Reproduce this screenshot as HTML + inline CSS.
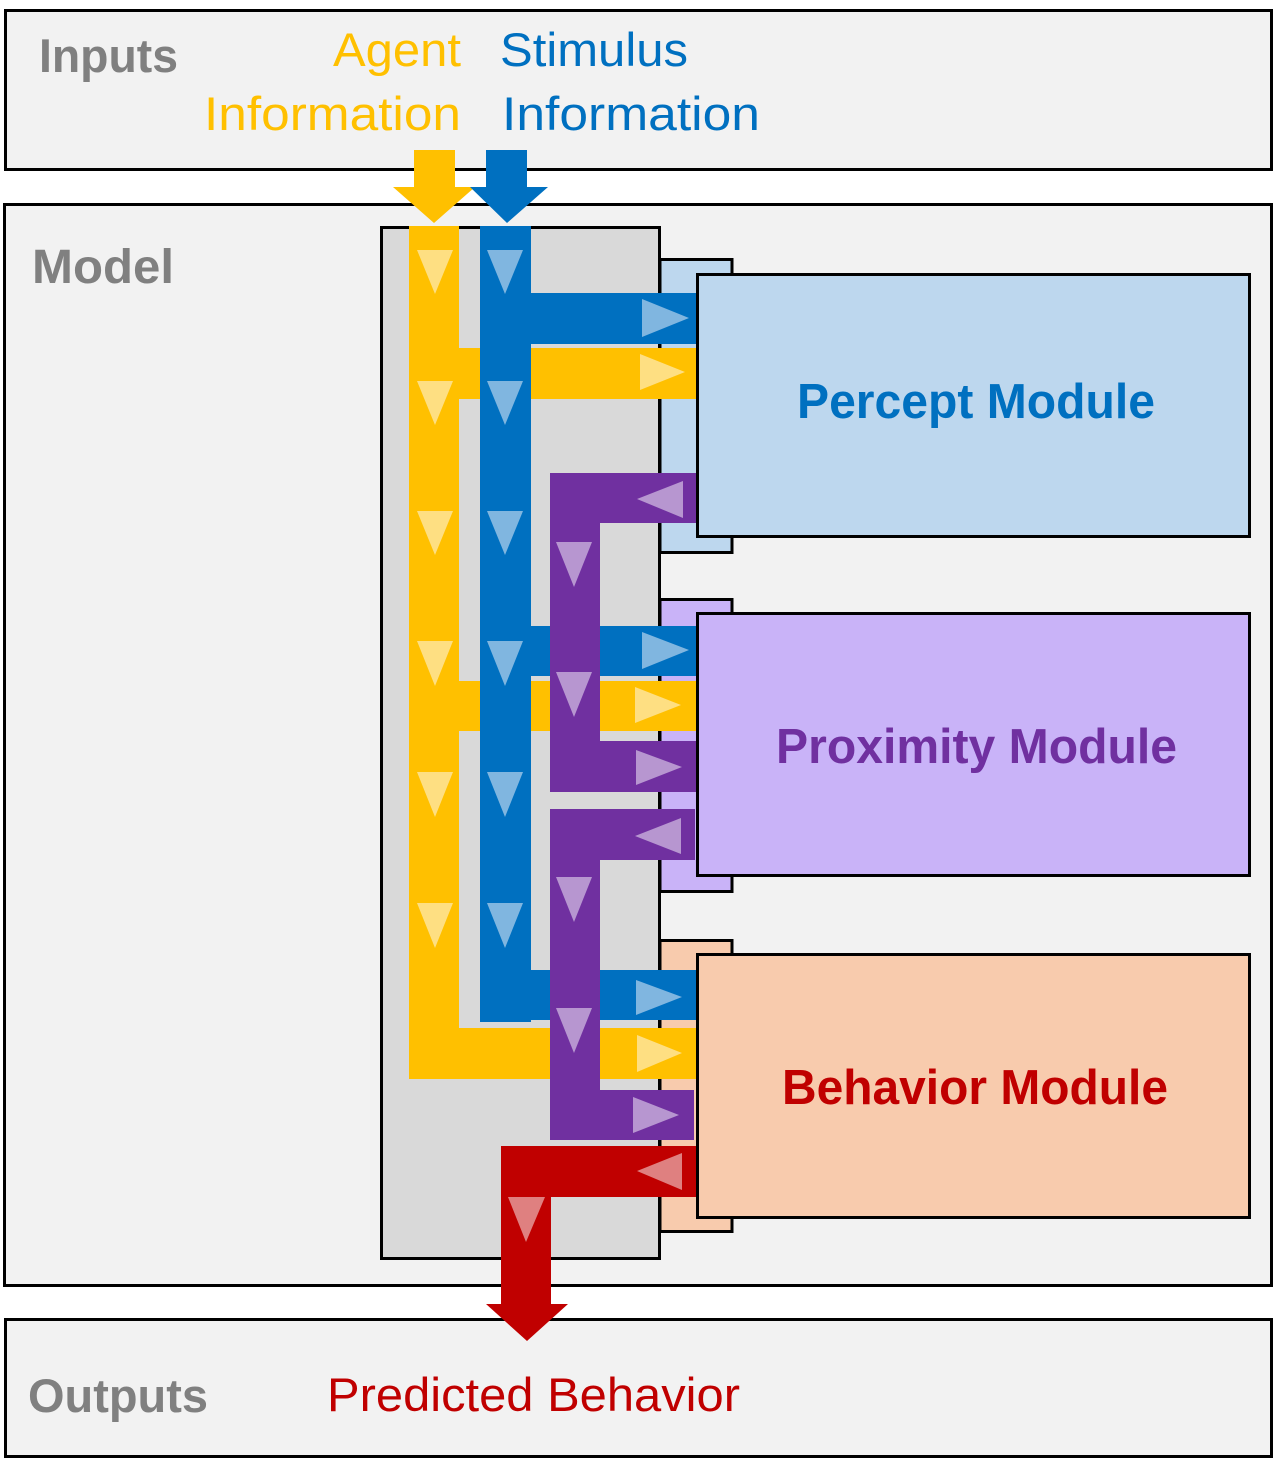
<!DOCTYPE html>
<html><head><meta charset="utf-8"><style>html,body{margin:0;padding:0;background:#fff}svg{display:block}text{font-family:"Liberation Sans",sans-serif}</style></head>
<body>
<svg width="1280" height="1463" viewBox="0 0 1280 1463" xmlns="http://www.w3.org/2000/svg">
<!-- outer boxes -->
<rect x="5.5" y="10.5" width="1266" height="159" fill="#f2f2f2" stroke="#000" stroke-width="3"/>
<rect x="4.5" y="204.5" width="1267" height="1081" fill="#f2f2f2" stroke="#000" stroke-width="3"/>
<rect x="5.5" y="1319.5" width="1266" height="137" fill="#f2f2f2" stroke="#000" stroke-width="3"/>

<text x="39" y="72" font-size="47" font-weight="bold" fill="#808080" textLength="139" lengthAdjust="spacingAndGlyphs">Inputs</text>
<text x="333" y="66" font-size="47" fill="#ffc000" textLength="128" lengthAdjust="spacingAndGlyphs">Agent</text>
<text x="204" y="130" font-size="47" fill="#ffc000" textLength="257" lengthAdjust="spacingAndGlyphs">Information</text>
<text x="500" y="66" font-size="47" fill="#0070c0" textLength="188" lengthAdjust="spacingAndGlyphs">Stimulus</text>
<text x="502" y="130" font-size="47" fill="#0070c0" textLength="258" lengthAdjust="spacingAndGlyphs">Information</text>
<text x="32" y="283" font-size="48" font-weight="bold" fill="#808080" textLength="142" lengthAdjust="spacingAndGlyphs">Model</text>
<text x="28" y="1412" font-size="47" font-weight="bold" fill="#808080" textLength="180" lengthAdjust="spacingAndGlyphs">Outputs</text>
<text x="327" y="1411" font-size="47" fill="#c00000" textLength="413" lengthAdjust="spacingAndGlyphs">Predicted Behavior</text>

<!-- gray panel -->
<rect x="381.5" y="227.5" width="278" height="1031" fill="#d9d9d9" stroke="#000" stroke-width="3"/>
<!-- back boxes -->
<rect x="660" y="259.5" width="72" height="293" fill="#bdd7ee" stroke="#000" stroke-width="3"/>
<rect x="660" y="599.5" width="72" height="292" fill="#c9b3f8" stroke="#000" stroke-width="3"/>
<rect x="660" y="940.5" width="72" height="291" fill="#f8cbad" stroke="#000" stroke-width="3"/>

<!-- input arrows -->
<polygon points="414,150 455,150 455,187 475,187 434,223 393,187 414,187" fill="#ffc000"/>
<polygon points="486,150 527,150 527,187 548,187 507,223 470,187 486,187" fill="#0070c0"/>

<!-- yellow -->
<rect x="409" y="226" width="50" height="853" fill="#ffc000"/>
<rect x="459" y="348" width="237" height="51" fill="#ffc000"/>
<rect x="459" y="681" width="237" height="50" fill="#ffc000"/>
<rect x="409" y="1028" width="287" height="51" fill="#ffc000"/>
<!-- blue -->
<rect x="480" y="226" width="51" height="796" fill="#0070c0"/>
<rect x="531" y="293" width="167" height="51" fill="#0070c0"/>
<rect x="531" y="626" width="167" height="50" fill="#0070c0"/>
<rect x="531" y="970" width="169" height="50" fill="#0070c0"/>
<!-- purple -->
<rect x="550" y="473" width="148" height="50" fill="#7030a0"/>
<rect x="550" y="473" width="50" height="319" fill="#7030a0"/>
<rect x="550" y="741" width="147" height="51" fill="#7030a0"/>
<rect x="550" y="809" width="145" height="51" fill="#7030a0"/>
<rect x="550" y="809" width="50" height="331" fill="#7030a0"/>
<rect x="550" y="1090" width="144" height="50" fill="#7030a0"/>
<!-- red -->
<rect x="501" y="1146" width="196" height="51" fill="#c00000"/>
<rect x="501" y="1146" width="50" height="160" fill="#c00000"/>
<polygon points="486,1304 568,1304 527,1341" fill="#c00000"/>

<!-- triangles -->
<g fill="#fedf82">
<polygon points="417,250 453,250 435,294"/><polygon points="417,381 453,381 435,425"/><polygon points="417,511 453,511 435,555"/>
<polygon points="417,641 453,641 435,686"/><polygon points="417,772 453,772 435,817"/><polygon points="417,903 453,903 435,948"/>
<polygon points="640,354 640,390 685,372"/><polygon points="635,687 635,723 681,705"/><polygon points="637,1035 637,1072 682,1053"/>
</g>
<g fill="#80b6e0">
<polygon points="487,250 523,250 505,294"/><polygon points="487,381 523,381 505,425"/><polygon points="487,511 523,511 505,555"/>
<polygon points="487,641 523,641 505,686"/><polygon points="487,772 523,772 505,817"/><polygon points="487,903 523,903 505,948"/>
<polygon points="642,299 642,337 689,318"/><polygon points="642,632 642,669 689,650"/><polygon points="636,980 636,1015 682,997"/>
</g>
<g fill="#b796d0">
<polygon points="556,542 592,542 574,587"/><polygon points="556,672 592,672 574,717"/><polygon points="556,877 592,877 574,922"/><polygon points="556,1008 592,1008 574,1053"/>
<polygon points="683,481 683,518 637,499"/><polygon points="636,750 636,785 682,767"/><polygon points="681,818 681,854 635,836"/><polygon points="633,1097 633,1133 679,1115"/>
</g>
<g fill="#df8080">
<polygon points="682,1153 682,1190 637,1171"/><polygon points="508,1197 545,1197 526,1242"/>
</g>

<!-- front boxes -->
<rect x="697.5" y="274.5" width="552" height="262" fill="#bdd7ee" stroke="#000" stroke-width="3"/>
<rect x="697.5" y="613.5" width="552" height="262" fill="#c9b3f8" stroke="#000" stroke-width="3"/>
<rect x="697.5" y="954.5" width="552" height="263" fill="#f8cbad" stroke="#000" stroke-width="3"/>
<text x="797" y="418" font-size="49" font-weight="bold" fill="#0070c0" textLength="358" lengthAdjust="spacingAndGlyphs">Percept Module</text>
<text x="776" y="763" font-size="49" font-weight="bold" fill="#7030a0" textLength="401" lengthAdjust="spacingAndGlyphs">Proximity Module</text>
<text x="782" y="1104" font-size="49" font-weight="bold" fill="#c00000" textLength="386" lengthAdjust="spacingAndGlyphs">Behavior Module</text>
</svg>
</body></html>
